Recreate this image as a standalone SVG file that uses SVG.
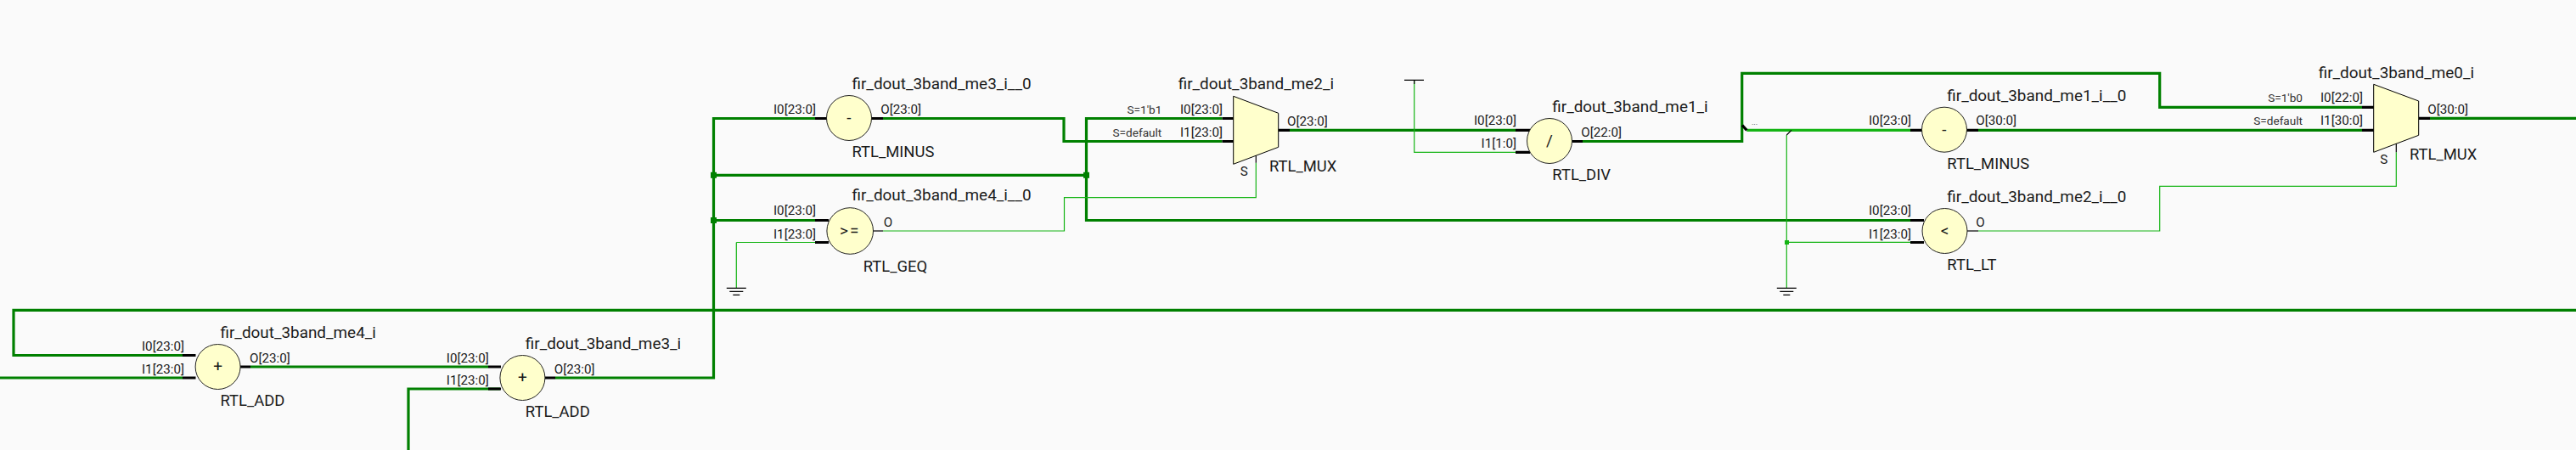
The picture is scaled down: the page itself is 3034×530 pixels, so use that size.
<svg xmlns="http://www.w3.org/2000/svg" width="3034" height="530" viewBox="0 0 3034 530">
<defs>
<style>
text{font-family:Roboto,"Open Sans","Liberation Sans",sans-serif;fill:#1a1a1a}
.n{font-size:18.9px}
.r{font-size:18.4px}
.p{font-size:15.2px}
.s{font-size:13.6px;fill:#333}
.e{text-anchor:end}
.o{font-size:19px;text-anchor:middle}
.b{fill:none;stroke:#008000;stroke-width:3.2}
.t{fill:none;stroke:#14b414;stroke-width:1.2}
.lb{fill:none;stroke:#14b414;stroke-width:3.2}
.st{fill:none;stroke:#000;stroke-width:3.2}
.st1{fill:none;stroke:#000;stroke-width:1.2}
.c{fill:#ffffcc;stroke:#222;stroke-width:1}
.g{fill:none;stroke:#000;stroke-width:1.2}
</style>
<g id="gnd"><path class="g" d="M-11.5 0H11.5M-8 4H8M-4 8H4"/></g>
</defs>
<rect width="3034" height="530" fill="#fafafa"/>
<g id="connectors">
<path class="b" d="M3034 365.3H16V418.5H215"/>
<path class="b" d="M0 445H215"/>
<path class="b" d="M295 432H575"/>
<path class="b" d="M481 530V458H589"/>
<path class="b" d="M654 445H840.5V139.5H960"/>
<path class="b" d="M840.5 206.3H1279.5"/>
<path class="b" d="M840.5 259.5H960"/>
<path class="b" d="M1040 139.5H1253V166.5H1439.5"/>
<path class="b" d="M1439.5 139.5H1279.5V259.5H2250"/>
<path class="b" d="M1519 153.3H1785"/>
<path class="b" d="M1864 166.5H2051.7V86.3H2543.7V126.3H2782"/>
<path class="b" d="M2330 153.3H2782"/>
<path class="b" d="M2862 139.3H3034"/>
<path class="lb" d="M2057.3 153.3H2250"/>
<path class="t" d="M867.3 285.5V339.3"/>
<path class="t" d="M867.3 285.5H960"/>
<path class="t" d="M1040 272H1253.5V232.7H1479.3V191.7"/>
<path class="t" d="M1665.7 94.3V179.3H1785"/>
<path class="t" d="M2104.3 159V339.3"/>
<path class="t" d="M2104.3 285.3H2250"/>
<path class="t" d="M2330 272H2543.7V219.3H2822.3V179.3"/>
<path class="st1" d="M2104.3 159L2110 153.3"/>
<path class="st" d="M2052 147.5L2057.3 153.3"/>
<rect x="837" y="202.8" width="7" height="7" fill="#008000"/>
<rect x="837" y="256" width="7" height="7" fill="#008000"/>
<rect x="1276" y="202.8" width="7" height="7" fill="#008000"/>
<rect x="2102" y="283" width="5" height="5" fill="#14b414"/>
<text class="s" x="2063" y="147" style="font-size:9px">...</text>
</g>
<g id="supply">
<use href="#gnd" x="867.3" y="339.3"/>
<use href="#gnd" x="2104.3" y="339.3"/>
<path class="g" d="M1654 94.3H1677M1665.7 94.3V99"/>
</g>
<g id="add4">
<path class="st" d="M215 418.5H230.5M215 445H230.5M282.5 432H295"/>
<circle class="c" cx="256.6" cy="432" r="26.5"/>
<text class="o" x="256.6" y="438">+</text>
<text class="n" x="259.5" y="398.3">fir_dout_3band_me4_i</text>
<text class="p e" x="217" y="413.3">I0[23:0]</text>
<text class="p e" x="217" y="440">I1[23:0]</text>
<text class="p" x="294" y="427.3">O[23:0]</text>
<text class="r" x="259.5" y="477.7">RTL_ADD</text>
</g>
<g id="add3">
<path class="st" d="M575 432H590M575 458H590M642 445H654"/>
<circle class="c" cx="615.4" cy="445" r="26.5"/>
<text class="o" x="615.4" y="451">+</text>
<text class="n" x="618.8" y="410.7">fir_dout_3band_me3_i</text>
<text class="p e" x="575.8" y="426.7">I0[23:0]</text>
<text class="p e" x="575.8" y="453.3">I1[23:0]</text>
<text class="p" x="652.7" y="440">O[23:0]</text>
<text class="r" x="618.8" y="490.7">RTL_ADD</text>
</g>
<g id="minus3">
<path class="st" d="M960 139.5H974M1026 139.5H1040"/>
<circle class="c" cx="1000" cy="139" r="26.5"/>
<text class="o" x="1000" y="145">-</text>
<text class="n" x="1003.5" y="105">fir_dout_3band_me3_i__0</text>
<text class="p e" x="961" y="134.3">I0[23:0]</text>
<text class="p" x="1037.3" y="134.3">O[23:0]</text>
<text class="r" x="1003.5" y="185">RTL_MINUS</text>
</g>
<g id="geq4">
<path class="st" d="M960 259.5H976M960 285.5H976"/>
<path class="st1" d="M1028 272H1040"/>
<circle class="c" cx="1001.2" cy="272" r="27.3"/>
<text class="o" x="1001.2" y="278" style="letter-spacing:2px">&gt;=</text>
<text class="n" x="1003.5" y="236">fir_dout_3band_me4_i__0</text>
<text class="p e" x="961" y="253.3">I0[23:0]</text>
<text class="p e" x="961" y="280.7">I1[23:0]</text>
<text class="p" x="1040.7" y="267.3">O</text>
<text class="r" x="1016.7" y="320">RTL_GEQ</text>
</g>
<g id="mux2">
<path class="st" d="M1439.5 139.5H1453M1439.5 166.5H1453M1505.7 153.3H1519"/>
<path class="st1" d="M1479.3 182V191.7"/>
<polygon class="c" points="1452.7,113.3 1505.7,133.3 1505.7,173.3 1452.7,193.3" style="stroke:#000"/>
<text class="n" x="1387.7" y="105">fir_dout_3band_me2_i</text>
<text class="s e" x="1368.3" y="134">S=1'b1</text>
<text class="s e" x="1368.3" y="161">S=default</text>
<text class="p e" x="1440" y="134">I0[23:0]</text>
<text class="p e" x="1440" y="161">I1[23:0]</text>
<text class="p" x="1516" y="148.3">O[23:0]</text>
<text class="p" x="1460.7" y="207">S</text>
<text class="r" x="1495" y="202">RTL_MUX</text>
</g>
<g id="div1">
<path class="st" d="M1785 153.3H1802M1785 179.3H1802M1852 166.5H1864"/>
<circle class="c" cx="1825" cy="166" r="26.5"/>
<text class="o" x="1825" y="172">/</text>
<text class="n" x="1828.3" y="132">fir_dout_3band_me1_i</text>
<text class="p e" x="1786" y="147.3">I0[23:0]</text>
<text class="p e" x="1786" y="174">I1[1:0]</text>
<text class="p" x="1862.3" y="161">O[22:0]</text>
<text class="r" x="1828.3" y="211.7">RTL_DIV</text>
</g>
<g id="minus1">
<path class="st" d="M2250 153.3H2264M2316 153.3H2330"/>
<circle class="c" cx="2290" cy="152.7" r="26.5"/>
<text class="o" x="2290" y="158.7">-</text>
<text class="n" x="2293.3" y="119.3">fir_dout_3band_me1_i__0</text>
<text class="p e" x="2251" y="147.3">I0[23:0]</text>
<text class="p" x="2327.3" y="147.3">O[30:0]</text>
<text class="r" x="2293.3" y="199">RTL_MINUS</text>
</g>
<g id="lt2">
<path class="st" d="M2250 259.5H2266M2250 285.5H2266"/>
<path class="st1" d="M2317 272H2330"/>
<circle class="c" cx="2290.5" cy="272" r="26.5"/>
<text class="o" x="2290.5" y="278">&lt;</text>
<text class="n" x="2293.3" y="238">fir_dout_3band_me2_i__0</text>
<text class="p e" x="2251" y="253.3">I0[23:0]</text>
<text class="p e" x="2251" y="280.7">I1[23:0]</text>
<text class="p" x="2327.3" y="267.3">O</text>
<text class="r" x="2293.3" y="317.7">RTL_LT</text>
</g>
<g id="mux0">
<path class="st" d="M2782 126.3H2796M2782 153.3H2796M2848.7 139.3H2862"/>
<path class="st1" d="M2822.3 169V179.3"/>
<polygon class="c" points="2795.7,99.3 2848.7,119 2848.7,159.3 2795.7,179.3" style="stroke:#000"/>
<text class="n" x="2730.7" y="91.7">fir_dout_3band_me0_i</text>
<text class="s e" x="2712" y="120">S=1'b0</text>
<text class="s e" x="2712" y="147.3">S=default</text>
<text class="p e" x="2783" y="120">I0[22:0]</text>
<text class="p e" x="2783" y="147.3">I1[30:0]</text>
<text class="p" x="2859.3" y="134">O[30:0]</text>
<text class="p" x="2803.3" y="193.3">S</text>
<text class="r" x="2838" y="187.7">RTL_MUX</text>
</g>
</svg>
